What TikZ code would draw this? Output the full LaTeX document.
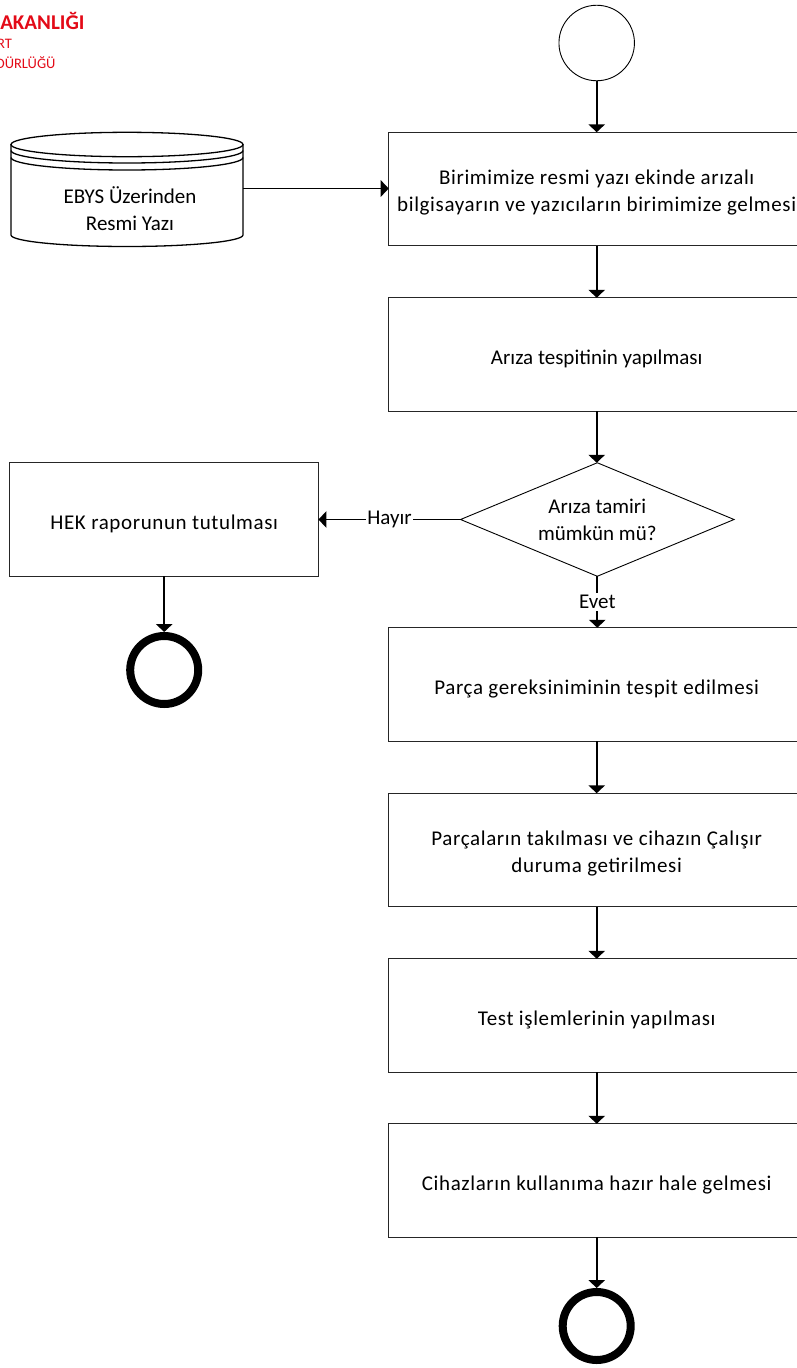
\documentclass[tikz,border=0pt]{standalone}
\usepackage{fontspec}
\setmainfont{Carlito}
\newfontfamily\genisfont[LetterSpace=3]{Carlito}
\usepackage{xcolor}
\usetikzlibrary{positioning,shapes.geometric,arrows.meta}
\definecolor{baslikred}{HTML}{E30A17}

\begin{document}
\begin{tikzpicture}[x=1pt,y=1pt]
\tikzset{
  every node/.style={font=\fontsize{21}{27}\selectfont,align=center,inner sep=0pt,outer sep=0pt},
  genis/.style={font=\fontsize{21}{27}\selectfont\genisfont},
  adim/.style={draw=black!85,line width=1pt,fill=white,minimum width=416pt,minimum height=113.5pt,execute at begin node={\rule{0pt}{24pt}}},
  karar/.style={diamond,aspect=2.4,draw=black,line width=0.9pt,fill=white,minimum width=273.5pt,minimum height=113.5pt},
  baslangic/.style={circle,draw=black,line width=0.9pt,fill=white,minimum size=75.5pt},
  bitis/.style={circle,draw=black,line width=8pt,fill=white,outer sep=4pt,minimum size=68pt},
  etiket/.style={fill=white,inner xsep=1pt,inner ysep=2pt},
  baslik/.style={text=baslikred,anchor=east},
  ok/.style={line width=1.7pt,-{Triangle[width=16.5pt,length=8pt]}}
}
\useasboundingbox (0,0) rectangle (797,-1368);
% ust yazi
\node [baslik,font=\fontsize{21}{24}\bfseries\selectfont] (baslika) at (84.5,-21) {AKANLIĞI};
\node [baslik,font=\fontsize{14.5}{17}\selectfont] (baslikb) at (12,-44) {RT};
\node [baslik,font=\fontsize{14.5}{17}\selectfont] (baslikc) at (55.5,-63) {DÜRLÜĞÜ};
% ebys belgesi
\draw [black,line width=1.3pt,fill=white] (11,-144) -- (11,-235) arc (180:360:116 and 11.5) -- (243,-144);
\draw [black,line width=1.3pt,fill=white] (127,-144.5) ellipse (116 and 12.2);
\draw [black,line width=1.3pt] (11,-150.5) arc (180:360:116 and 12.5);
\draw [black,line width=1.3pt] (11,-157.5) arc (180:360:116 and 12.5);
\node [minimum width=232pt,minimum height=114pt] (ebys) at (127,-188.5) {};
\node (ebysyazi) at (130,-208.5) {EBYS Üzerinden\\Resmi Yazı};
% ana akis
\node [baslangic] (bas) at (596.7,-43) {};
\node [adim] (yazi) at (596.7,-189) {};
\node [genis] (yazimetin) at (596.7,-193) {Birimimize resmi yazı ekinde arızalı\\bilgisayarın ve yazıcıların birimimize gelmesi};
\node [adim] (tespit) at (596.7,-354.5) {Arıza tespitinin yapılması};
\node [karar] (tamir) at (597.3,-519.5) {Arıza tamiri\\mümkün mü?};
\node [adim,genis] (parca) at (596.7,-684.5) {Parça gereksiniminin tespit edilmesi};
\node [adim] (takma) at (596.7,-850) {};
\node [genis] (takmametin) at (596.7,-854) {Parçaların takılması ve cihazın Çalışır\\duruma getirilmesi};
\node [adim,genis] (test) at (596.7,-1015.5) {Test işlemlerinin yapılması};
\node [adim,genis] (hazir) at (596.7,-1180.5) {Cihazların kullanıma hazır hale gelmesi};
\node [bitis] (son) at (596.7,-1326) {};
% sol kol
\node [adim,genis,minimum width=308.5pt] (hek) at (164.2,-519.5) {HEK raporunun tutulması};
\node [bitis] (sonhek) at (164.2,-670) {};
% oklar
\draw [ok] (bas) -- (yazi);
\draw [ok] (ebys) -- (yazi.west |- ebys);
\draw [ok] (yazi) -- (tespit);
\draw [ok] (tespit) -- (tespit |- tamir.north);
\draw [ok] (tamir) -- (hek) node [midway,etiket] (hayir) {Hayır};
\draw [ok] (tamir) -- (tamir |- parca.north) node [midway,etiket] (evet) {Evet};
\draw [ok] (parca) -- (takma);
\draw [ok] (takma) -- (test);
\draw [ok] (test) -- (hazir);
\draw [ok] (hazir) -- (son);
\draw [ok] (hek) -- (sonhek);
\end{tikzpicture}
\end{document}
